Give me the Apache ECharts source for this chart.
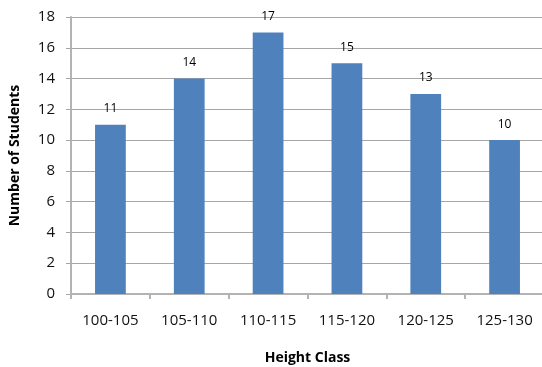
<!DOCTYPE html>
<html><head><meta charset="utf-8">
<script src="https://cdn.jsdelivr.net/npm/echarts@6/dist/echarts.min.js"></script>
<style>html,body{margin:0;padding:0;background:#fff}#c{width:542px;height:367px}</style>
</head><body><div id="c"></div>
<script>
const categories = ['100-105','105-110','110-115','115-120','120-125','125-130'];
const students = [11, 14, 17, 15, 13, 10];
const yTicks = [0, 18, 2];
const chart = echarts.init(document.getElementById('c'));
const font = '"Open Sans", "Noto Sans", sans-serif';
chart.setOption({
  animation: false,
  grid: { left: 71, right: -2, top: 17, bottom: 73, containLabel: false, outerBoundsMode: 'none' },
  xAxis: {
    type: 'category', data: categories,
    name: 'Height Class', nameLocation: 'middle', nameGap: 57,
    nameTextStyle: { fontFamily: font, fontWeight: 'bold', fontSize: 14, color: '#000' },
    axisLine: { lineStyle: { color: '#b3b3b3', width: 2 } },
    axisTick: { show: true, length: 5, lineStyle: { color: '#b3b3b3', width: 2 } },
    axisLabel: { fontFamily: font, fontSize: 15, color: '#111', margin: 19 }
  },
  yAxis: {
    type: 'value', min: yTicks[0], max: yTicks[1], interval: yTicks[2],
    name: 'Number of Students', nameLocation: 'middle', nameGap: 49,
    nameTextStyle: { fontFamily: font, fontWeight: 'bold', fontSize: 14, color: '#000' },
    axisLine: { show: true, lineStyle: { color: '#b3b3b3', width: 2 } },
    axisTick: { show: true, length: 5, lineStyle: { color: '#a6a6a6' } },
    axisLabel: { fontFamily: font, fontSize: 15, color: '#111', margin: 16 },
    splitLine: { lineStyle: { color: '#a6a6a6', width: 1 } }
  },
  series: [{
    type: 'bar', data: students, barWidth: '39%',
    itemStyle: { color: '#4f81bd' },
    label: { show: true, position: 'top', distance: 10, fontFamily: font, fontSize: 12, color: '#000' }
  }]
});
</script></body></html>
